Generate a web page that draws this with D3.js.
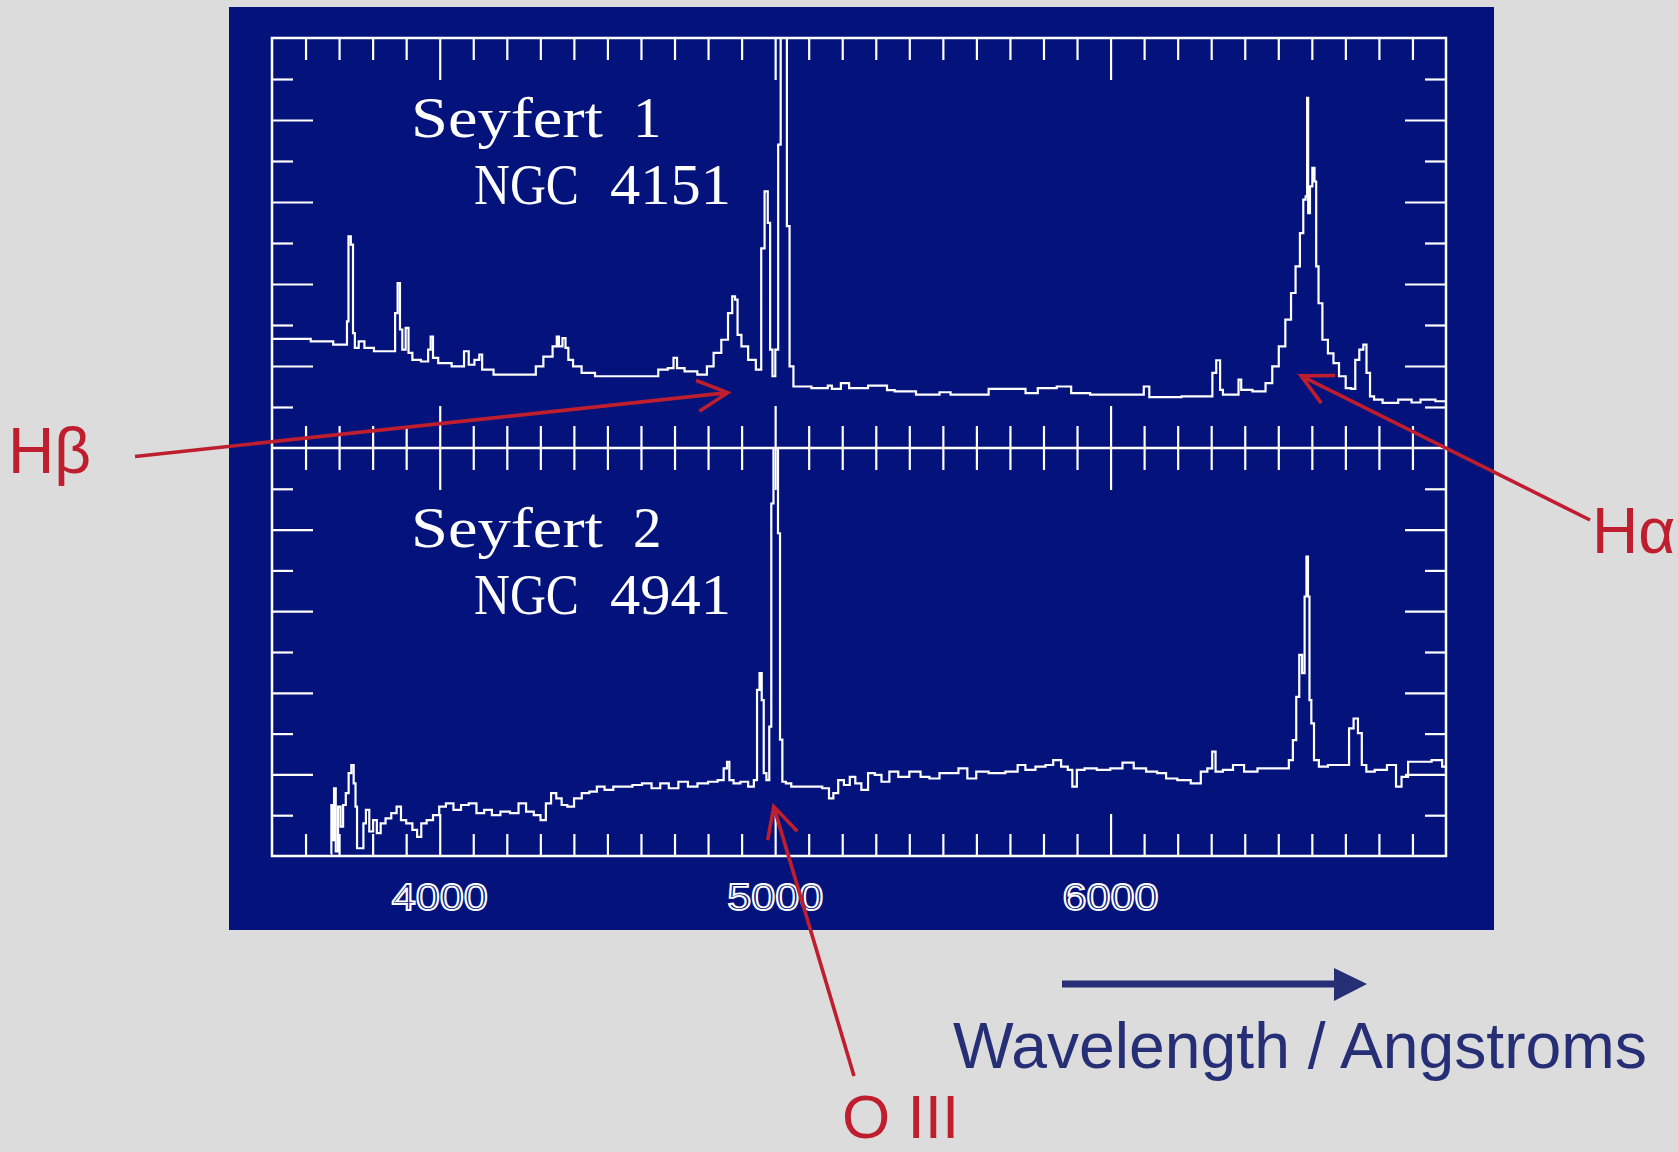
<!doctype html>
<html>
<head>
<meta charset="utf-8">
<title>Seyfert 1 and Seyfert 2 spectra</title>
<script src="https://d3js.org/d3.v7.min.js"></script>
<style>
  body { margin:0; background:#dcdcdc; }
  svg { display:block; }
</style>
</head>
<body>
<svg id="chart" width="1678" height="1152"></svg>
<script>
// Seyfert 1, NGC 4151 : wavelength (A) and relative flux (panel units 0-10)
var topWave = [3499,3615,3616,3682,3683,3722,3725,3731,3739,3744,3750,3767,3784,3824,3864,3870,3879,3884,3893,3904,3910,3927,3961,3970,3976,3984,4007,4064,4081,4092,4115,4121,4132,4189,4281,4292,4326,4347,4351,4360,4372,4378,4389,4406,4440,4486,4634,4669,4691,4703,4712,4748,4788,4805,4828,4851,4868,4876,4885,4891,4908,4931,4954,4963,4974,4982,4988,4996,5005,5013,5020,5031,5039,5047,5062,
  5154,5160,5178,5214,5227,5327,5340,5373,5467,5513,5533,5740,5753,5813,5866,5899,5979,6092,6106,6125,6298,6309,6321,6332,6338,6378,6385,6394,6452,6472,6492,6511,6531,6545,6558,6571,6578,6585,6587,6591,6598,6605,6611,6615,6625,6638,6658,6671,6691,6711,6724,6735,6748,6759,6767,6780,6791,6831,6884,6911,6937,7000];
var topFlux = [2.66,2.66,2.60,2.60,2.52,2.52,3.09,5.16,4.96,2.80,2.44,2.60,2.44,2.36,2.36,3.29,4.02,2.89,2.40,2.93,2.32,2.15,2.11,2.40,2.72,2.20,2.07,1.99,2.36,2.03,2.15,2.28,1.91,1.79,1.79,1.99,2.23,2.48,2.72,2.48,2.68,2.44,2.15,1.99,1.83,1.75,1.75,1.91,1.95,2.20,1.95,1.87,1.79,1.99,2.32,2.64,3.29,3.70,3.62,2.76,2.48,2.15,1.91,4.87,6.26,5.49,2.40,1.75,2.40,7.40,10.2,10.2,5.41,1.99,1.50,
  1.46,1.52,1.44,1.58,1.46,1.52,1.41,1.38,1.30,1.36,1.30,1.44,1.34,1.46,1.50,1.34,1.30,1.30,1.50,1.24,1.26,1.83,2.14,1.42,1.30,1.30,1.67,1.42,1.38,1.58,1.99,2.48,3.13,3.78,4.43,5.24,6.06,6.14,8.54,5.73,6.38,6.83,6.50,4.43,3.53,2.64,2.31,2.07,1.75,1.46,1.44,2.15,2.40,2.52,1.83,1.26,1.18,1.10,1.18,1.11,1.18,1.14];

// Seyfert 2, NGC 4941
var botWave = [3676,3678,3683,3687,3693,3701,3708,3716,3724,3733,3740,3747,3751,3756,3769,3776,3784,3796,3807,3818,3830,3847,3864,3879,3890,3910,3927,3938,3952,3970,3990,4007,4030,4052,4075,4098,4121,4144,4167,4195,4224,4246,4269,4292,4309,4324,4340,4355,4372,4389,4412,4435,4457,4480,4503,4532,4560,4589,4617,4646,4669,4697,4726,4754,4783,4817,4840,4853,4860,4867,4885,4908,4931,4942,4950,4957,4963,4969,4979,4986,4991,4999,5006,5011,5018,5025,5039,5057,
  5074,5127,5154,5167,5180,5196,5214,5231,5247,5267,5287,5307,5327,5354,5380,5420,5447,5473,5507,5533,5560,5586,5613,5660,5713,5733,5759,5793,5819,5839,5866,5879,5893,5906,5939,5979,6019,6052,6086,6126,6152,6179,6219,6259,6279,6298,6308,6318,6352,6378,6418,6458,6498,6525,6538,6549,6558,6567,6575,6582,6586,6591,6595,6602,6611,6631,6665,6704,6718,6731,6744,6754,6771,6804,6844,6858,6877,6897,6937,6977,7000];
var botFlux = [0.05,1.25,0.39,1.66,0.11,1.21,0.72,1.25,1.54,2.03,2.23,1.78,1.21,0.19,0.19,0.80,1.13,0.60,0.88,0.56,0.80,0.92,1.05,1.21,0.88,0.80,0.64,0.47,0.80,0.88,1.00,1.21,1.29,1.13,1.25,1.29,1.05,1.13,1.00,1.09,1.05,1.29,1.09,1.00,0.88,1.29,1.54,1.41,1.25,1.21,1.41,1.54,1.58,1.70,1.62,1.70,1.70,1.74,1.78,1.66,1.78,1.66,1.82,1.70,1.78,1.82,1.86,2.15,2.31,1.86,1.78,1.82,1.70,1.86,4.07,4.48,3.82,2.03,1.86,3.17,8.64,10.2,10.2,7.91,2.85,1.82,1.78,1.70,
  1.70,1.70,1.66,1.41,1.54,1.86,1.74,1.94,1.78,1.62,2.03,1.99,1.82,2.07,1.94,2.07,1.94,1.90,2.03,2.03,2.15,1.90,2.07,2.03,2.07,2.23,2.11,2.19,2.23,2.35,2.19,2.11,1.70,2.11,2.15,2.11,2.15,2.29,2.15,2.07,2.03,1.90,1.86,1.78,2.07,2.15,2.56,2.07,2.11,2.23,2.07,2.15,2.15,2.15,2.35,2.84,3.90,4.93,4.48,6.36,7.34,6.36,3.82,3.25,2.35,2.19,2.23,2.23,3.13,3.37,3.01,2.23,2.07,2.11,2.23,1.70,1.94,2.31,2.31,2.35,2.19];

var xLabels = [4000, 5000, 6000];
var panelNames = [["Seyfert", "1", "NGC", "4151"], ["Seyfert", "2", "NGC", "4941"]];

var svg = d3.select("#chart");
var white = "#ffffff", navy = "#04137c", red = "#be1e2d", ink = "#262f75";

var x = d3.scaleLinear().domain([3500, 7000]).range([272, 1446]);
var yTop = d3.scaleLinear().domain([0, 10]).range([448, 38]);
var yBot = d3.scaleLinear().domain([0, 10]).range([856, 448]);

svg.append("rect").attr("x", 229).attr("y", 7).attr("width", 1265).attr("height", 923).attr("fill", navy);

var minorX = d3.range(3600, 7000, 100).filter(function(d) { return d % 1000 !== 0; });
var minorY = [1, 3, 5, 7, 9], majorY = [2, 4, 6, 8];

function edge(axisFn, scale, vals, size, tr) {
  var g = svg.append("g").attr("transform", tr)
    .call(axisFn(scale).tickValues(vals).tickSize(size).tickFormat(""));
  g.select(".domain").remove();
  g.selectAll("line").attr("stroke", white).attr("stroke-width", 2.2);
}

// word slots for the panel titles: [x, dy from panel top, width or null]
var titleSlots = [[411, 98.5, 192], [633, 98.5, null], [474, 165.5, 105], [610, 165.5, 121]];

function panel(y, wave, flux, names, id) {
  var top = y.range()[1], bot = y.range()[0];
  edge(d3.axisBottom, x, minorX, 22, "translate(0," + top + ")");
  edge(d3.axisBottom, x, xLabels, 42, "translate(0," + top + ")");
  edge(d3.axisTop, x, minorX, 22, "translate(0," + bot + ")");
  edge(d3.axisTop, x, xLabels, 42, "translate(0," + bot + ")");
  edge(d3.axisRight, y, minorY, 21, "translate(272,0)");
  edge(d3.axisRight, y, majorY, 41, "translate(272,0)");
  edge(d3.axisLeft, y, minorY, 21, "translate(1446,0)");
  edge(d3.axisLeft, y, majorY, 41, "translate(1446,0)");

  svg.append("clipPath").attr("id", id).append("rect")
    .attr("x", 272).attr("y", top).attr("width", 1174).attr("height", bot - top);

  var pts = wave.map(function(w, i) { return [w, flux[i]]; });
  var line = d3.line().x(function(d) { return x(d[0]); }).y(function(d) { return y(d[1]); })
    .curve(d3.curveStep);
  svg.append("path").datum(pts).attr("d", line).attr("clip-path", "url(#" + id + ")")
    .attr("fill", "none").attr("stroke", white).attr("stroke-width", 2.2)
    .attr("stroke-linejoin", "miter");

  names.forEach(function(w, i) {
    var s = titleSlots[i];
    var t = svg.append("text").attr("x", s[0]).attr("y", top + s[1]).text(w)
      .attr("font-family", "Liberation Serif, serif").attr("font-size", 57).attr("fill", white);
    if (s[2]) t.attr("textLength", s[2]).attr("lengthAdjust", "spacingAndGlyphs");
  });
}

panel(yTop, topWave, topFlux, panelNames[0], "clipTop");
panel(yBot, botWave, botFlux, panelNames[1], "clipBot");

// outer frame and divider
svg.append("rect").attr("x", 272).attr("y", 38).attr("width", 1174).attr("height", 818)
  .attr("fill", "none").attr("stroke", white).attr("stroke-width", 2.5);
svg.append("line").attr("x1", 272).attr("x2", 1446).attr("y1", yTop(0)).attr("y2", yTop(0))
  .attr("stroke", white).attr("stroke-width", 2.5);

// tick labels (outlined digits)
svg.selectAll("text.xl").data(xLabels).enter().append("text").attr("class", "xl")
  .attr("x", function(d) { return x(d); }).attr("y", 910).attr("text-anchor", "middle")
  .attr("font-family", "Liberation Sans, sans-serif").attr("font-size", 37)
  .attr("textLength", 96).attr("lengthAdjust", "spacingAndGlyphs")
  .attr("fill", navy).attr("stroke", white).attr("stroke-width", 1.8)
  .text(function(d) { return d; });

// annotation arrows
function openArrow(x1, y1, x2, y2) {
  var a = Math.atan2(y1 - y2, x1 - x2), L = 34, h = 27 * Math.PI / 180;
  var p = d3.path();
  p.moveTo(x1, y1); p.lineTo(x2, y2);
  p.moveTo(x2 + L * Math.cos(a + h), y2 + L * Math.sin(a + h));
  p.lineTo(x2, y2);
  p.lineTo(x2 + L * Math.cos(a - h), y2 + L * Math.sin(a - h));
  svg.append("path").attr("d", p.toString()).attr("fill", "none")
    .attr("stroke", red).attr("stroke-width", 3.6).attr("stroke-linejoin", "miter");
}
openArrow(135, 456.5, x(4859), yTop(1.35));
openArrow(1590, 520, x(6568), yTop(1.76));
openArrow(854, 1076, x(4996), yBot(1.21));

function label(t, lx, ly, col, fs) {
  svg.append("text").attr("x", lx).attr("y", ly).text(t)
    .attr("font-family", "Liberation Sans, Arial, sans-serif").attr("font-size", fs || 64).attr("fill", col);
}
label("Hβ", 8, 473, red);
label("Hα", 1592, 553, red);
label("O III", 842, 1138, red, 62);

// wavelength arrow
svg.append("line").attr("x1", 1062).attr("x2", 1336).attr("y1", 984).attr("y2", 984)
  .attr("stroke", ink).attr("stroke-width", 7);
svg.append("path").attr("d", "M1334,968L1367,984L1334,1001Z").attr("fill", ink);
svg.append("text").attr("x", 953).attr("y", 1068).text("Wavelength / Angstroms")
  .attr("font-family", "Liberation Sans, Arial, sans-serif").attr("font-size", 65).attr("fill", ink)
  .attr("textLength", 694).attr("lengthAdjust", "spacingAndGlyphs");
</script>
</body>
</html>
